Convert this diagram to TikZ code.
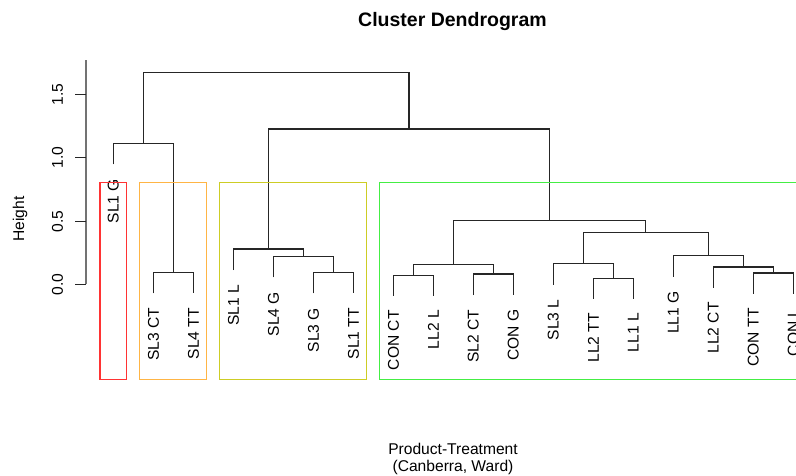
\documentclass[tikz,border=0pt]{standalone}
\usepackage{fontspec}
\setmainfont{Liberation Sans}
\begin{document}
\begin{tikzpicture}[x=1pt,y=-1pt,
  dend/.style={draw=black!85,line width=1.3pt},
  axisline/.style={draw=black!55,line width=1.8pt},
  tickmark/.style={draw=black!85,line width=1.1pt},
  leaflab/.style={rotate=90,anchor=east,inner sep=0pt,font=\fontsize{15.6}{18}\selectfont},
  ticklab/.style={rotate=90,anchor=center,inner sep=0pt,font=\fontsize{15.6}{18}\selectfont},
  plaintext/.style={inner sep=0pt,font=\fontsize{15.6}{18}\selectfont,align=center},
  titletext/.style={inner sep=0pt,font=\fontsize{19.5}{22}\selectfont\bfseries},
  grpbox/.style={line width=1.4pt}]
\clip (0,0) rectangle (796,475);
\fill[white] (0,0) rectangle (796,475);

% colours of the cluster boxes
\definecolor{boxred}{HTML}{FF3333}
\definecolor{boxorange}{HTML}{FFB545}
\definecolor{boxyellow}{HTML}{CDCD25}
\definecolor{boxgreen}{HTML}{44EE44}

% title and axis titles
\node[titletext] (title) at (452.5,21.5) {Cluster Dendrogram};
\node[plaintext] (xlab) at (453,459) {Product-Treatment\\[-0.5pt](Canberra, Ward)};
\node[ticklab] (ylab) at (20,219) {Height};

% height axis
\coordinate (axtop) at (86,60);
\coordinate (axbot) at (86,284.3);
\draw[axisline] (axtop) -- (axbot);
\foreach \k/\v/\yy in {0/0.0/284.3,1/0.5/221.5,2/1.0/157.8,3/1.5/94.2}{
  \coordinate (tk\k) at (86,\yy);
  \coordinate (tl\k) at (75,\yy);
  \draw[tickmark] (tk\k) -- (tl\k);
  \node[ticklab] (tt\k) at (57.5,\yy) {\v};
}

% leaf ends
\coordinate (L0)  at (113.3,164.3);
\coordinate (L1)  at (153.4,293.3);
\coordinate (L2)  at (193.4,293.3);
\coordinate (L3)  at (233.4,270.0);
\coordinate (L4)  at (273.4,277.3);
\coordinate (L5)  at (313.4,293.3);
\coordinate (L6)  at (353.4,293.3);
\coordinate (L7)  at (393.4,295.5);
\coordinate (L8)  at (433.4,295.5);
\coordinate (L9)  at (473.3,295.0);
\coordinate (L10) at (513.3,295.0);
\coordinate (L11) at (553.3,284.7);
\coordinate (L12) at (593.3,298.5);
\coordinate (L13) at (633.3,298.5);
\coordinate (L14) at (673.3,276.7);
\coordinate (L15) at (713.3,287.7);
\coordinate (L16) at (753.3,293.7);
\coordinate (L17) at (793.3,293.7);

% merge points
\coordinate (m1)  at (173.4,272.7);
\coordinate (m2)  at (143.4,143.7);
\coordinate (m3)  at (333.4,272.3);
\coordinate (m4)  at (303.4,256.7);
\coordinate (m5)  at (268.4,249.0);
\coordinate (m6)  at (413.4,275.3);
\coordinate (m7)  at (493.3,274.0);
\coordinate (m8)  at (453.3,264.7);
\coordinate (m9)  at (613.3,278.3);
\coordinate (m10) at (583.3,263.7);
\coordinate (m11) at (773.3,273.0);
\coordinate (m12) at (743.3,267.0);
\coordinate (m13) at (708.3,255.7);
\coordinate (m14) at (645.8,232.7);
\coordinate (m15) at (549.6,220.7);
\coordinate (m16) at (409.0,129.0);
\coordinate (m17) at (276.2,72.7);

% branches: left child up to the merge height, across, down to the right child
\foreach \a/\m/\b in {L1/m1/L2, L0/m2/m1, L5/m3/L6, L4/m4/m3, L3/m5/m4,
                      L7/m6/L8, L9/m7/L10, m6/m8/m7, L12/m9/L13, L11/m10/m9,
                      L16/m11/L17, L15/m12/m11, L14/m13/m12, m10/m14/m13,
                      m8/m15/m14, m5/m16/m15, m2/m17/m16}{
  \draw[dend] (\a) |- (\m) -| (\b);
}

% leaf labels
\foreach \i/\t in {0/SL1 G,1/SL3 CT,2/SL4 TT,3/SL1 L,4/SL4 G,5/SL3 G,6/SL1 TT,
                   7/CON CT,8/LL2 L,9/SL2 CT,10/CON G,11/SL3 L,12/LL2 TT,
                   13/LL1 L,14/LL1 G,15/LL2 CT,16/CON TT,17/CON L}{
  \node[leaflab] (lab\i) at ([yshift=-14.5pt]L\i) {\t};
}

% cluster boxes
\draw[grpbox,boxred]    (100.0,182.7) rectangle (126.7,379.5);
\draw[grpbox,boxorange] (139.7,182.7) rectangle (206.3,379.5);
\draw[grpbox,boxyellow] (219.3,182.7) rectangle (366.7,379.5);
\draw[grpbox,boxgreen]  (379.3,182.7) rectangle (812.0,379.5);
\end{tikzpicture}
\end{document}
